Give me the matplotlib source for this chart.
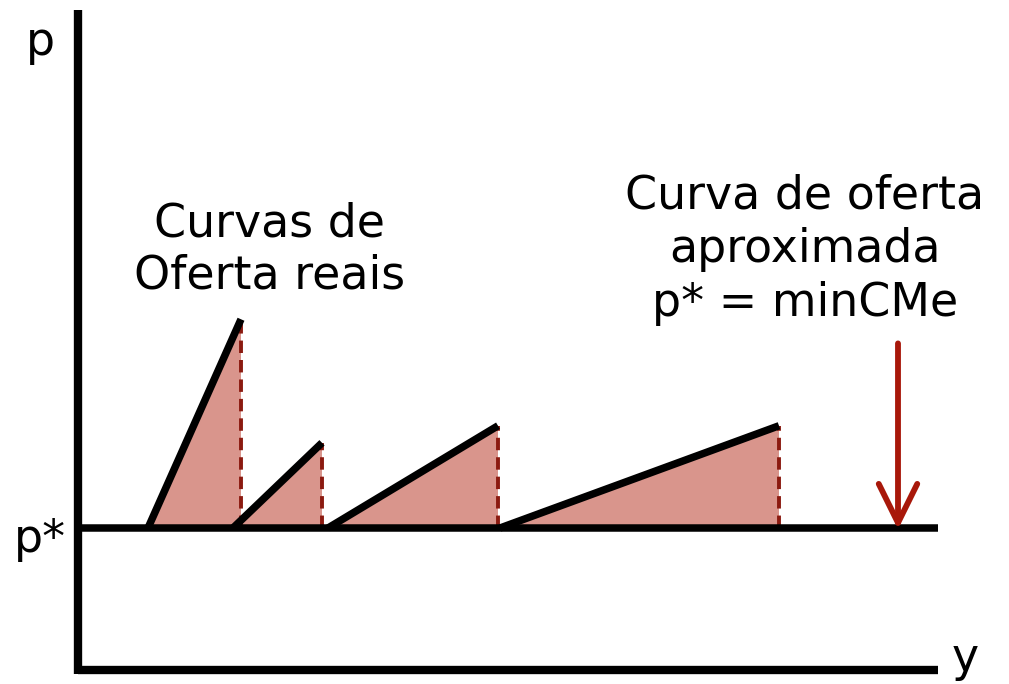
import matplotlib.pyplot as plt

# data units: x = horizontal position, y = price (p* = 1)
p_star = 1.0
x_start = [0.70, 1.55, 2.50, 4.22]   # where each real supply curve leaves p*
x_end = [1.63, 2.44, 4.20, 7.01]     # where each curve stops (shutdown)
p_end = [2.47, 1.60, 1.72, 1.72]     # price reached at the end of each curve
arrow_x = 8.20
x_max, y_max = 8.60, 4.65

plt.rcParams.update({'font.family': ['DejaVu Sans'], 'font.size': 33})
fig = plt.figure(figsize=(10.09, 6.84), dpi=100)
# origin sits at pixel (78, 670); 1 x-unit = 100 px, 1 y-unit = 142 px
ax = fig.add_axes([78/1009, 14/684, 1, 1])
ax.set_xlim(0, 1009/100)
ax.set_ylim(0, 684/142)
ax.axis('off')

FILL = '#d9958c'
DASH = '#8b1a10'
ARROW = '#a8180a'

for xs, xe, pe in zip(x_start, x_end, p_end):
    ax.fill([xs, xe, xe], [p_star, pe, p_star], color=FILL, lw=0, zorder=1)
    ax.plot([xe, xe], [p_star, pe], color=DASH, lw=2.8, ls=(0, (3.2, 1.8)), zorder=2)
    ax.plot([xs, xe], [p_star, pe], color='black', lw=5.4, solid_capstyle='butt', zorder=3)

# axes and p* line
ax.plot([0, 0], [-0.03, y_max], color='black', lw=6, solid_capstyle='butt', zorder=4, clip_on=False)
ax.plot([0, x_max], [0, 0], color='black', lw=6, solid_capstyle='butt', zorder=4, clip_on=False)
ax.plot([0, x_max], [p_star, p_star], color='black', lw=5.4, solid_capstyle='butt', zorder=4)

ax.annotate('', xy=(arrow_x, p_star - 0.01), xytext=(arrow_x, 2.3),
            arrowprops=dict(arrowstyle='->,head_length=0.85,head_width=0.42', color=ARROW,
                            lw=4.2, shrinkA=0, shrinkB=0),
            zorder=5)

ax.text(-0.38, 4.42, 'p', ha='center', va='center')
ax.text(-0.38, 0.92, 'p*', ha='center', va='center')
ax.text(8.87, 0.08, 'y', ha='center', va='center')
ax.text(1.92, 2.96, 'Curvas de\nOferta reais', ha='center', va='center', linespacing=1.2)
ax.text(7.27, 2.96, 'Curva de oferta\naproximada\np* = minCMe', ha='center', va='center',
        linespacing=1.25)

fig.savefig('out.png', dpi=100)
